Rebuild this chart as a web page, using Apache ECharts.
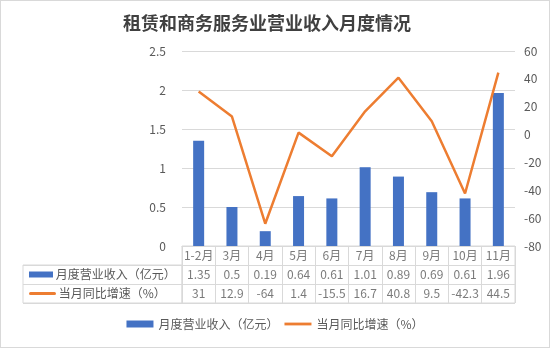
<!DOCTYPE html>
<html><head><meta charset="utf-8">
<script src="https://cdn.jsdelivr.net/npm/echarts@6/dist/echarts.min.js"></script>
<style>html,body{margin:0;padding:0;background:#fff}#c{width:548px;height:346px;border:1px solid #d9d9d9}</style>
</head><body><div id="c"></div>
<script>
const categories = ['1-2月','3月','4月','5月','6月','7月','8月','9月','10月','11月'];
const revenue = [1.35, 0.5, 0.19, 0.64, 0.61, 1.01, 0.89, 0.69, 0.61, 1.96];
const yoy = [31, 12.9, -64, 1.4, -15.5, 16.7, 40.8, 9.5, -42.3, 44.5];
const seriesNames = ['月度营业收入（亿元）', '当月同比增速（%）'];
const titleText = '租赁和商务服务业营业收入月度情况';

const FONT = '"Noto Sans CJK SC", "Microsoft YaHei", sans-serif';
const TXT = '#595959';
const BORDER = '#d9d9d9';
const BLUE = '#4472C4';
const ORANGE = '#ED7D31';

const tableData = [];
categories.forEach((c, i) => {
  tableData.push([i, 0, c]);
  tableData.push([i, 1, String(revenue[i])]);
  tableData.push([i, 2, String(yoy[i])]);
});

const chart = echarts.init(document.getElementById('c'));
chart.setOption({
  animation: false,
  textStyle: { fontFamily: FONT },
  title: {
    text: titleText, left: 117, top: 8,
    textStyle: { fontSize: 18, fontWeight: 'bold', color: '#404040', fontFamily: FONT }
  },
  legend: {
    data: [
      { name: seriesNames[0], icon: 'rect' },
      { name: seriesNames[1], icon: 'path://M0,0L29,0L29,3L0,3Z' }
    ],
    bottom: 12, left: 'center',
    itemWidth: 27, itemHeight: 7, itemGap: 6,
    textStyle: { fontSize: 12, color: TXT, fontFamily: FONT }
  },
  grid: [
    { left: 181, top: 50, width: 333, height: 195 },
    { left: 181, top: 245, width: 333, height: 57, show: true, borderColor: BORDER, borderWidth: 1 },
    { left: 22, top: 264, width: 159, height: 38, show: true, borderColor: BORDER, borderWidth: 1 }
  ],
  xAxis: [
    { type: 'category', gridIndex: 0, data: categories, axisLabel: { show: false }, axisTick: { show: false },
      axisLine: { show: true, lineStyle: { color: BORDER } } },
    { type: 'category', gridIndex: 1, data: categories, axisLabel: { show: false }, axisTick: { show: false },
      axisLine: { show: false }, splitLine: { show: true, interval: 0, lineStyle: { color: BORDER } } },
    { type: 'value', gridIndex: 2, show: false, min: 0, max: 1 }
  ],
  yAxis: [
    { type: 'value', gridIndex: 0, min: 0, max: 2.5, interval: 0.5,
      axisLabel: { color: TXT, fontSize: 12, margin: 16 },
      axisLine: { show: false }, axisTick: { show: false },
      splitLine: { lineStyle: { color: BORDER } } },
    { type: 'value', gridIndex: 0, min: -80, max: 60, interval: 20, position: 'right',
      axisLabel: { color: TXT, fontSize: 12, margin: 9 },
      axisLine: { show: false }, axisTick: { show: false }, splitLine: { show: false } },
    { type: 'category', gridIndex: 1, data: ['r0','r1','r2'], inverse: true,
      axisLabel: { show: false }, axisTick: { show: false }, axisLine: { show: false },
      splitLine: { show: true, interval: 0, lineStyle: { color: BORDER } } },
    { type: 'category', gridIndex: 2, data: seriesNames, inverse: true,
      axisTick: { show: false }, axisLine: { show: false },
      splitLine: { show: true, interval: 0, lineStyle: { color: BORDER } },
      axisLabel: {
        inside: true, margin: 6, color: TXT, fontSize: 12, fontFamily: FONT,
        formatter: (v, idx) => (idx === 0 ? '{bar|}' : '{line|}') + ' ' + v,
        rich: {
          bar: { width: 24, height: 6, backgroundColor: BLUE },
          line: { width: 27, height: 3, backgroundColor: ORANGE, borderRadius: 1.5 }
        }
      } }
  ],
  series: [
    { name: seriesNames[0], type: 'bar', xAxisIndex: 0, yAxisIndex: 0, data: revenue,
      barWidth: 11, itemStyle: { color: BLUE } },
    { name: seriesNames[1], type: 'line', xAxisIndex: 0, yAxisIndex: 1, data: yoy,
      symbol: 'none', lineStyle: { color: ORANGE, width: 2.5 }, itemStyle: { color: ORANGE } },
    { name: 'table', type: 'scatter', xAxisIndex: 1, yAxisIndex: 2, data: tableData,
      symbolSize: 0.01, silent: true, encode: { x: 0, y: 1 },
      label: { show: true, position: 'inside', color: TXT, fontSize: 12, fontFamily: FONT,
        formatter: p => p.value[2] } }
  ]
});
</script></body></html>
